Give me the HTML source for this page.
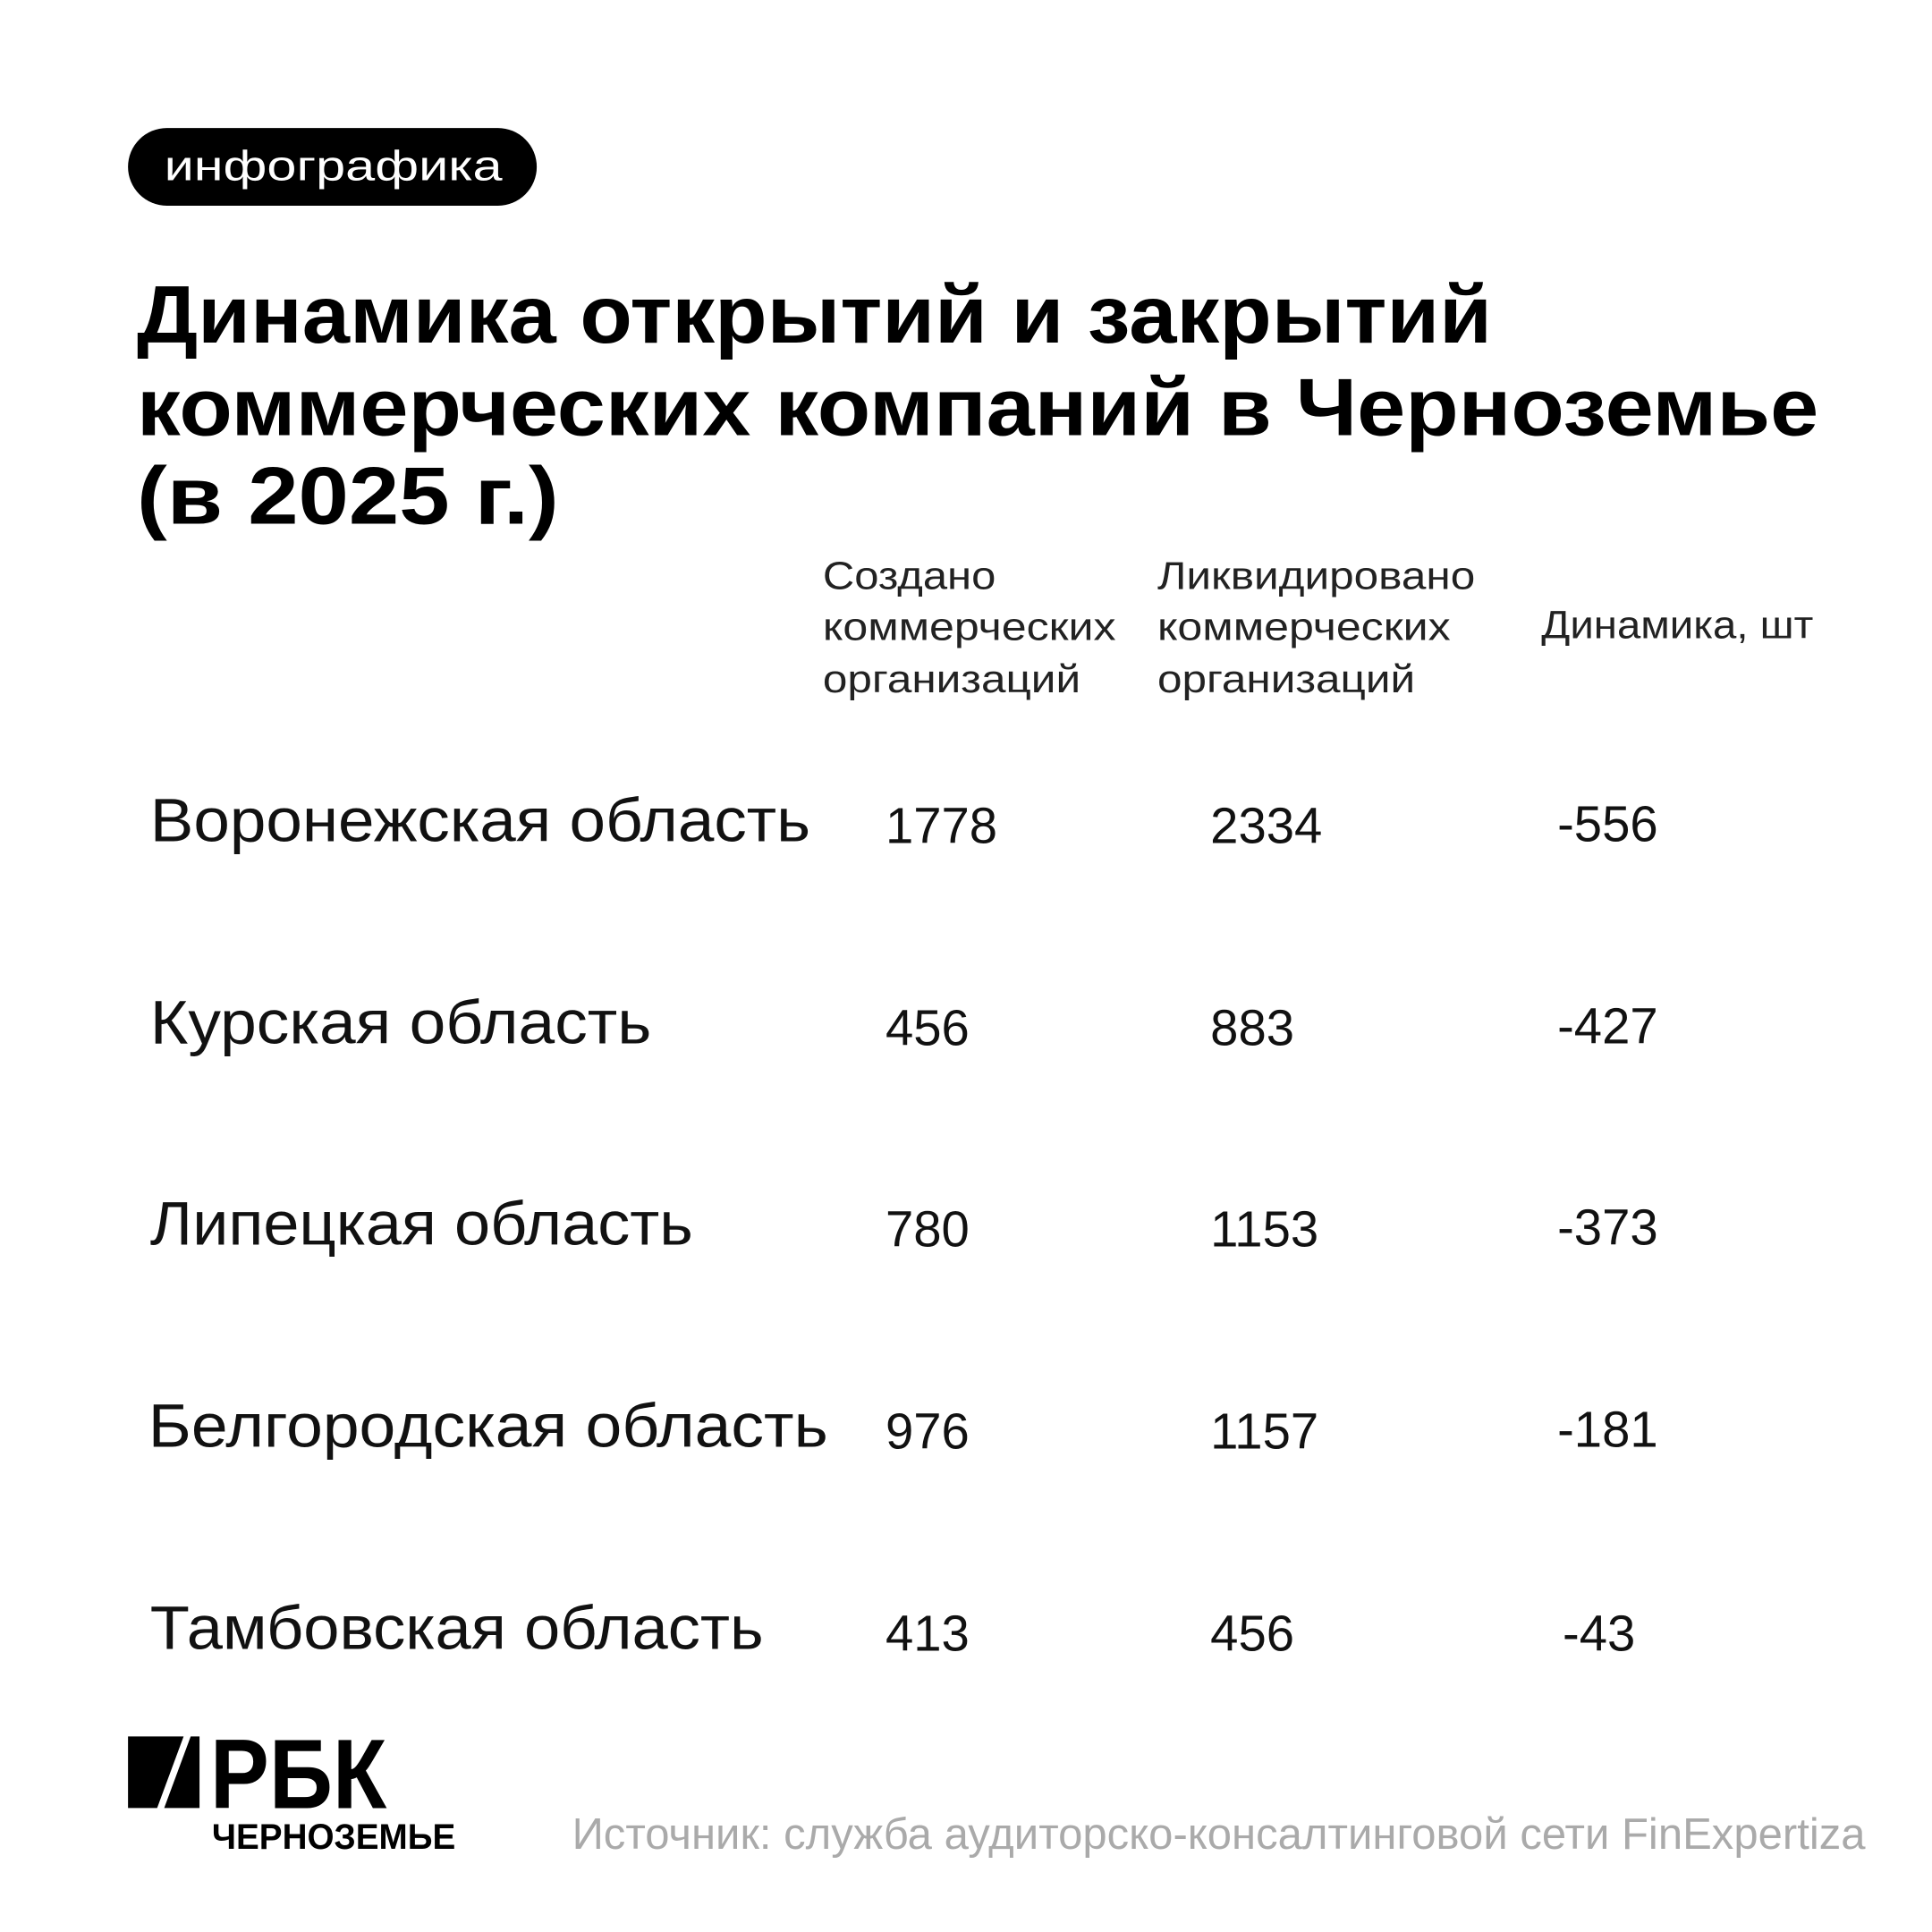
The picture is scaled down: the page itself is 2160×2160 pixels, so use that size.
<!DOCTYPE html>
<html><head><meta charset="utf-8"><style>
html,body{margin:0;padding:0;background:#fff;}
svg{display:block;}
text{font-family:"Liberation Sans",sans-serif;}
</style></head><body>
<svg width="2160" height="2160" viewBox="0 0 2160 2160" xmlns="http://www.w3.org/2000/svg">
<rect width="2160" height="2160" fill="#fff"/>
<g transform="scale(0.987)">
<rect x="145" y="145" width="463" height="88" rx="44" fill="#000"/>
<text x="186" y="204" font-size="48" fill="#fff" textLength="383" lengthAdjust="spacingAndGlyphs">инфографика</text>
<g font-weight="bold" font-size="92" fill="#000">
<text x="155" y="388" textLength="1535" lengthAdjust="spacingAndGlyphs">Динамика открытий и закрытий</text>
<text x="155" y="493" textLength="1905" lengthAdjust="spacingAndGlyphs">коммерческих компаний в Черноземье</text>
<text x="155" y="593" textLength="478" lengthAdjust="spacingAndGlyphs">(в 2025 г.)</text>
</g>
<g font-size="44" fill="#222">
<text x="932" y="667" textLength="196" lengthAdjust="spacingAndGlyphs">Создано</text>
<text x="932" y="725" textLength="332" lengthAdjust="spacingAndGlyphs">коммерческих</text>
<text x="932" y="784" textLength="292" lengthAdjust="spacingAndGlyphs">организаций</text>
<text x="1311" y="667" textLength="360" lengthAdjust="spacingAndGlyphs">Ликвидировано</text>
<text x="1311" y="725" textLength="332" lengthAdjust="spacingAndGlyphs">коммерческих</text>
<text x="1311" y="784" textLength="292" lengthAdjust="spacingAndGlyphs">организаций</text>
<text x="1746" y="723" textLength="308" lengthAdjust="spacingAndGlyphs">Динамика, шт</text>
</g>
<g font-size="70" fill="#111">
<text x="170" y="953" textLength="748" lengthAdjust="spacingAndGlyphs">Воронежская область</text>
<text x="170" y="1182" textLength="568" lengthAdjust="spacingAndGlyphs">Курская область</text>
<text x="170" y="1410" textLength="615" lengthAdjust="spacingAndGlyphs">Липецкая область</text>
<text x="168" y="1639" textLength="770" lengthAdjust="spacingAndGlyphs">Белгородская область</text>
<text x="170" y="1868" textLength="695" lengthAdjust="spacingAndGlyphs">Тамбовская область</text>
</g>
<g font-size="57" fill="#111">
<text x="1003" y="955">1778</text><text x="1371" y="955">2334</text><text x="1764" y="953">-556</text>
<text x="1003" y="1184">456</text><text x="1371" y="1184">883</text><text x="1764" y="1182">-427</text>
<text x="1003" y="1412">780</text><text x="1371" y="1412">1153</text><text x="1764" y="1410">-373</text>
<text x="1003" y="1641">976</text><text x="1371" y="1641">1157</text><text x="1764" y="1639">-181</text>
<text x="1003" y="1870">413</text><text x="1371" y="1870">456</text><text x="1770" y="1870">-43</text>
</g>
<polygon points="145,1967 208,1967 178,2048 145,2048" fill="#000"/>
<polygon points="216,1967 226,1967 226,2048 186,2048" fill="#000"/>
<text x="238" y="2048" font-size="112" font-weight="bold" fill="#000" textLength="200" lengthAdjust="spacingAndGlyphs">РБК</text>
<text x="240" y="2094" font-size="40" font-weight="bold" fill="#000" textLength="276" lengthAdjust="spacingAndGlyphs">ЧЕРНОЗЕМЬЕ</text>
<text x="648" y="2094" font-size="50" fill="#aaa" textLength="1465" lengthAdjust="spacingAndGlyphs">Источник: служба аудиторско-консалтинговой сети FinExpertiza</text>
</g>
</svg>
</body></html>
